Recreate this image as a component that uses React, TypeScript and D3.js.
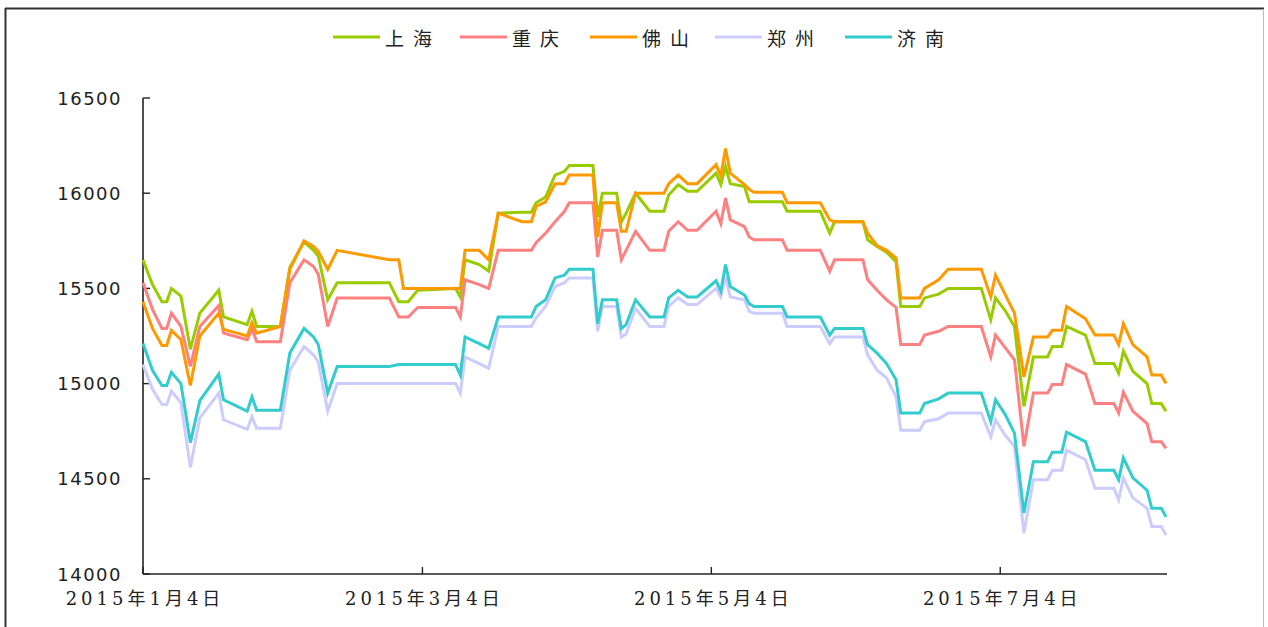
import { scaleLinear, scaleTime, line, timeParse } from "d3";

const parseDate = timeParse("%Y-%m-%d");

const dates = [
  "2015-01-04", "2015-01-06", "2015-01-08", "2015-01-09", "2015-01-10", "2015-01-12",
  "2015-01-14", "2015-01-16", "2015-01-20", "2015-01-21", "2015-01-26", "2015-01-27",
  "2015-01-28", "2015-02-02", "2015-02-04", "2015-02-07", "2015-02-09", "2015-02-10",
  "2015-02-12", "2015-02-14", "2015-02-25", "2015-02-27", "2015-02-28", "2015-03-01",
  "2015-03-03", "2015-03-11", "2015-03-12", "2015-03-13", "2015-03-16", "2015-03-18",
  "2015-03-20", "2015-03-25", "2015-03-27", "2015-03-28", "2015-03-30", "2015-04-01",
  "2015-04-03", "2015-04-04", "2015-04-09", "2015-04-10", "2015-04-11", "2015-04-14",
  "2015-04-15", "2015-04-16", "2015-04-18", "2015-04-21", "2015-04-24", "2015-04-25",
  "2015-04-27", "2015-04-29", "2015-05-01", "2015-05-05", "2015-05-06", "2015-05-07",
  "2015-05-08", "2015-05-11", "2015-05-12", "2015-05-13", "2015-05-19", "2015-05-20",
  "2015-05-27", "2015-05-29", "2015-05-30", "2015-06-05", "2015-06-06", "2015-06-08",
  "2015-06-10", "2015-06-12", "2015-06-13", "2015-06-17", "2015-06-18", "2015-06-21",
  "2015-06-23", "2015-06-30", "2015-07-02", "2015-07-03", "2015-07-05", "2015-07-07",
  "2015-07-09", "2015-07-11", "2015-07-14", "2015-07-15", "2015-07-17", "2015-07-18",
  "2015-07-22", "2015-07-24", "2015-07-28", "2015-07-29", "2015-07-30", "2015-08-01",
  "2015-08-04", "2015-08-05", "2015-08-07", "2015-08-08",
];

const shanghai = [
  15650, 15520, 15430, 15430, 15500, 15460, 15180, 15370, 15490, 15350, 15310, 15380,
  15300, 15300, 15610, 15745, 15700, 15670, 15440, 15530, 15530, 15430, 15430, 15430,
  15490, 15500, 15455, 15650, 15625, 15590, 15895, 15900, 15900, 15950, 15980, 16095,
  16115, 16145, 16145, 15875, 16000, 16000, 15850, 15895, 16000, 15905, 15905, 15990,
  16045, 16010, 16010, 16105, 16045, 16140, 16050, 16035, 15955, 15955, 15955, 15905,
  15905, 15790, 15850, 15850, 15755, 15720, 15690, 15640, 15405, 15405, 15450, 15470,
  15500, 15500, 15335, 15450, 15385, 15300, 14880, 15140, 15140, 15195, 15195, 15300,
  15255, 15105, 15105, 15055, 15170, 15065, 15000, 14895, 14895, 14855,
];

const chongqing = [
  15530, 15390, 15290, 15290, 15370, 15300, 15090, 15300, 15410, 15265, 15230, 15290,
  15220, 15220, 15530, 15650, 15615, 15575, 15300, 15450, 15450, 15350, 15350, 15350,
  15400, 15400, 15350, 15545, 15520, 15500, 15700, 15700, 15700, 15740, 15790, 15850,
  15905, 15950, 15950, 15665, 15805, 15805, 15650, 15700, 15800, 15700, 15700, 15800,
  15850, 15805, 15805, 15905, 15840, 15975, 15860, 15825, 15770, 15755, 15755, 15700,
  15700, 15590, 15650, 15650, 15545, 15490, 15440, 15400, 15205, 15205, 15255, 15275,
  15300, 15300, 15140, 15255, 15190, 15125, 14670, 14950, 14950, 14995, 14995, 15100,
  15050, 14895, 14895, 14845, 14955, 14855, 14790, 14695, 14695, 14660,
];

const foshan = [
  15430, 15290, 15200, 15200, 15280, 15230, 14990, 15250, 15370, 15285, 15250, 15320,
  15265, 15300, 15600, 15750, 15720, 15695, 15600, 15700, 15650, 15650, 15500, 15500,
  15500, 15500, 15500, 15700, 15700, 15650, 15895, 15850, 15850, 15930, 15955, 16050,
  16050, 16095, 16095, 15770, 15950, 15950, 15800, 15800, 16000, 16000, 16000, 16050,
  16095, 16050, 16050, 16150, 16090, 16235, 16105, 16045, 16020, 16005, 16005, 15950,
  15950, 15860, 15850, 15850, 15790, 15725, 15700, 15660, 15450, 15450, 15500, 15545,
  15600, 15600, 15455, 15570, 15470, 15370, 15035, 15245, 15245, 15280, 15280, 15405,
  15340, 15255, 15255, 15205, 15315, 15205, 15140, 15045, 15045, 15000,
];

const zhengzhou = [
  15100, 14970, 14890, 14890, 14960, 14900, 14560, 14820, 14950, 14810, 14760, 14825,
  14765, 14765, 15070, 15195, 15150, 15115, 14855, 15000, 15000, 15000, 15000, 15000,
  15000, 15000, 14950, 15140, 15105, 15080, 15300, 15300, 15300, 15345, 15405, 15510,
  15530, 15555, 15555, 15275, 15405, 15405, 15245, 15260, 15395, 15300, 15300, 15405,
  15450, 15415, 15415, 15500, 15455, 15560, 15455, 15440, 15380, 15370, 15370, 15300,
  15300, 15210, 15245, 15245, 15150, 15070, 15030, 14930, 14755, 14755, 14800, 14815,
  14845, 14845, 14720, 14810, 14730, 14670, 14215, 14495, 14495, 14545, 14545, 14650,
  14600, 14450, 14450, 14390, 14505, 14400, 14345, 14250, 14250, 14205,
];

const jinan = [
  15210, 15070, 14990, 14990, 15060, 15000, 14690, 14910, 15050, 14915, 14855, 14930,
  14860, 14860, 15160, 15290, 15245, 15205, 14950, 15090, 15090, 15100, 15100, 15100,
  15100, 15100, 15045, 15245, 15210, 15185, 15350, 15350, 15350, 15405, 15440, 15555,
  15570, 15600, 15600, 15315, 15440, 15440, 15290, 15310, 15440, 15350, 15350, 15450,
  15490, 15455, 15455, 15540, 15485, 15625, 15510, 15465, 15420, 15405, 15405, 15350,
  15350, 15255, 15290, 15290, 15205, 15160, 15105, 15020, 14845, 14845, 14895, 14920,
  14950, 14950, 14800, 14915, 14840, 14740, 14320, 14590, 14590, 14640, 14640, 14745,
  14695, 14545, 14545, 14495, 14610, 14505, 14440, 14345, 14345, 14300,
];

const seriesNames = ["上海", "重庆", "佛山", "郑州", "济南"];
const seriesValues = [shanghai, chongqing, foshan, zhengzhou, jinan];
const seriesColors = ["#99cc00", "#ff8080", "#ff9900", "#ccccff", "#33cccc"];

const yTicks = [14000, 14500, 15000, 15500, 16000, 16500];
const xTicks = ["2015-01-04", "2015-03-04", "2015-05-04", "2015-07-04"];
const xDomain = ["2015-01-04", "2015-08-08"];

const width = 1268;
const height = 627;
const plot = { left: 143, right: 1166, top: 98, bottom: 574 };

const formatCn = (d) =>
  `${d.getFullYear()}年${d.getMonth() + 1}月${d.getDate()}日`;

const App = () => {
  const xScale = scaleTime()
    .domain(xDomain.map(parseDate))
    .range([plot.left, plot.right]);
  const yScale = scaleLinear()
    .domain([14000, 16500])
    .range([plot.bottom, plot.top]);

  const lineGen = line()
    .x((d) => xScale(d[0]))
    .y((d) => yScale(d[1]));

  const parsed = dates.map(parseDate);

  const legendX = [333, 460, 590, 715, 845];

  return (
    <svg
      width={width}
      height={height}
      style={{ position: "absolute", left: 0, top: 0, background: "#fff" }}
    >
      {/* frame */}
      <line x1={5} x2={1264} y1={8.5} y2={8.5} stroke="#333" strokeWidth={2} />
      <line x1={5.5} x2={5.5} y1={8} y2={627} stroke="#333" strokeWidth={2} />
      <line x1={1263.5} x2={1263.5} y1={9} y2={627} stroke="#bbb" strokeWidth={1} />

      {/* legend */}
      {seriesNames.map((name, i) => (
        <g key={name} transform={`translate(${legendX[i]},37)`}>
          <line x1={0} x2={47} y1={0} y2={0} stroke={seriesColors[i]} strokeWidth={3} />
          <text
            x={52}
            y={0}
            dominantBaseline="central"
            fontFamily="'Noto Sans CJK SC', sans-serif"
            fontSize={19}
            letterSpacing={9}
            fill="#222"
          >
            {name}
          </text>
        </g>
      ))}

      {/* y axis */}
      <line x1={plot.left} x2={plot.left} y1={plot.top} y2={plot.bottom} stroke="#222" strokeWidth={1.6} />
      {yTicks.map((t) => (
        <g key={t} transform={`translate(0,${yScale(t)})`}>
          <line x1={plot.left} x2={plot.left + 7} stroke="#222" strokeWidth={1.4} />
          <text
            x={122}
            y={0}
            textAnchor="end"
            dominantBaseline="central"
            fontFamily="'DejaVu Sans', sans-serif"
            fontSize={18}
            letterSpacing={1.5}
            fill="#222"
          >
            {t}
          </text>
        </g>
      ))}

      {/* x axis */}
      <line x1={plot.left} x2={plot.right + 1} y1={plot.bottom} y2={plot.bottom} stroke="#222" strokeWidth={1.6} />
      {xTicks.map((s) => {
        const d = parseDate(s);
        const x = xScale(d);
        return (
          <g key={s}>
            <line x1={x} x2={x} y1={plot.bottom} y2={plot.bottom - 7} stroke="#222" strokeWidth={1.4} />
            <text
              x={x + 2}
              y={598}
              textAnchor="middle"
              dominantBaseline="central"
              fontFamily="'DejaVu Serif', 'Noto Sans CJK SC', serif"
              fontSize={18}
              letterSpacing={4}
              fill="#222"
            >
              {formatCn(d)}
            </text>
          </g>
        );
      })}

      {/* series */}
      {seriesValues.map((vals, i) => (
        <path
          key={seriesNames[i]}
          d={lineGen(parsed.map((d, j) => [d, vals[j]]))}
          fill="none"
          stroke={seriesColors[i]}
          strokeWidth={3}
          strokeLinejoin="miter"
        />
      ))}
    </svg>
  );
};

export default App;
